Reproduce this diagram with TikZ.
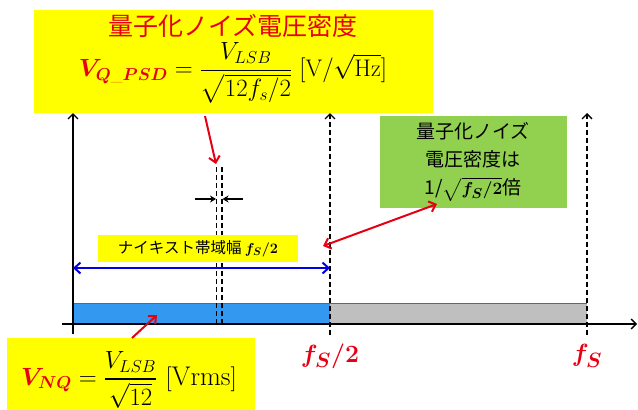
\documentclass[tikz,border=0pt]{standalone}
\usepackage{amsmath,amssymb}
\usepackage{bm}
\usepackage{fontspec}
\newfontfamily\jp{Noto Sans CJK JP}
\usetikzlibrary{arrows.meta}
\definecolor{ybox}{RGB}{255,255,0}
\definecolor{gbox}{RGB}{146,208,80}
\definecolor{bbar}{RGB}{51,153,240}
\definecolor{gbar}{RGB}{191,191,191}
\definecolor{rd}{RGB}{230,0,18}
\definecolor{bl}{RGB}{0,0,225}
\begin{document}
\begin{tikzpicture}[x=1pt,y=-1pt,
  boxnode/.style={inner sep=0pt, outer sep=0pt, anchor=north west, draw=none},
  axisline/.style={line width=1.6pt, -{Straight Barb[length=5pt,width=10pt,line width=1.4pt]}},
  dline/.style={line width=1.5pt, dash pattern=on 5pt off 3pt},
  darrow/.style={dline, -{Straight Barb[length=5pt,width=10pt,line width=1.3pt]}},
  redarr/.style={rd, line width=2pt, -{Straight Barb[length=6pt,width=11pt,line width=2pt]}},
  redboth/.style={rd, line width=2pt, {Straight Barb[length=6pt,width=11pt,line width=2pt]}-{Straight Barb[length=6pt,width=11pt,line width=2pt]}},
  bluearr/.style={bl, line width=2.2pt, {Straight Barb[length=6pt,width=11pt,line width=2pt]}-{Straight Barb[length=6pt,width=11pt,line width=2pt]}},
  smallarr/.style={line width=1.3pt, -{Stealth[length=6pt,width=7pt]}}
]
\useasboundingbox (0,0) rectangle (638,410);

% top yellow box
\node[boxnode, fill=ybox, minimum width=399pt, minimum height=103pt] (qbox) at (34,10) {};
\node[font=\jp\fontsize{25}{30}\selectfont, text=rd] (qtitle) at (233,26) {量子化ノイズ電圧密度};
\node[font=\fontsize{24}{28}\selectfont] (qpsd) at (233,73)
  {$\textcolor{rd}{\bm{V_{Q\_PSD}}} = \dfrac{V_{LSB}}{\sqrt{12f_s/2}}\ [\mathrm{V}/\sqrt{\mathrm{Hz}}]$};

% bars
\node[boxnode, fill=bbar, minimum width=257pt, minimum height=20pt] (bluebar) at (73,303) {};
\node[boxnode, fill=gbar, minimum width=257pt, minimum height=20pt] (graybar) at (330,303) {};
\draw[gray!80!black, line width=0.8pt] (bluebar.north west) -- (graybar.north east);

% axes
\coordinate (xa) at (62,324);
\coordinate (xb) at (637,324);
\coordinate (ya) at (73,334);
\coordinate (yb) at (73,113);
\draw[axisline] (xa) -- (xb);
\draw[axisline] (ya) -- (yb);

% dashed verticals
\coordinate (ha) at (330,335);
\coordinate (hb) at (330,113);
\coordinate (fa) at (587,335);
\coordinate (fb) at (587,113);
\draw[darrow] (ha) -- (hb);
\draw[darrow] (fa) -- (fb);

% double dashed line
\coordinate (d1a) at (216.5,324);
\coordinate (d1b) at (216.5,167);
\coordinate (d2a) at (222,324);
\coordinate (d2b) at (222,167);
\draw[dline] (d1a) -- (d1b);
\draw[dline] (d2a) -- (d2b);
\coordinate (sl) at (195,199);
\coordinate (slt) at (216,199);
\coordinate (sr) at (243,199);
\coordinate (srt) at (222.5,199);
\draw[smallarr] (sl) -- (slt);
\draw[smallarr] (sr) -- (srt);

% red arrow from top box
\coordinate (r1a) at (205,116);
\coordinate (r1b) at (216,164);
\draw[redarr] (r1a) -- (r1b);

% Nyquist label
\node[fill=ybox, minimum width=200pt, minimum height=27pt, inner sep=0pt,
  font=\jp\fontsize{15.5}{18}\selectfont] (nyq) at (198,248.5) {ナイキスト帯域幅 $\bm{f_S/2}$};

% blue arrow
\coordinate (ba) at (73,268);
\coordinate (bb) at (330,268);
\draw[bluearr] (ba) -- (bb);

% green box
\node[boxnode, fill=gbox, minimum width=187pt, minimum height=92pt] (gboxn) at (380,116) {};
\node[font=\jp\fontsize{19}{28}\selectfont, align=center] (gtext) at (473,162)
  {量子化ノイズ\\電圧密度は\\1/$\sqrt{\bm{f_S/2}}$倍};

% red double arrow
\coordinate (r2a) at (323,246);
\coordinate (r2b) at (437,204);
\draw[redboth] (r2a) -- (r2b);

% bottom yellow box
\node[boxnode, fill=ybox, minimum width=248pt, minimum height=75pt] (nqbox) at (7,338) {};
\node[font=\fontsize{27}{30}\selectfont] (vnq) at (129,380)
  {$\textcolor{rd}{\bm{V_{NQ}}} = \dfrac{V_{LSB}}{\sqrt{12}}\ [\mathrm{Vrms}]$};
\coordinate (r3a) at (132,338);
\coordinate (r3b) at (157,315);
\draw[redarr] (r3a) -- (r3b);

% frequency labels
\node[font=\fontsize{28}{32}\selectfont, text=rd] (lh) at (330,356) {$\bm{f_S/2}$};
\node[font=\fontsize{28}{32}\selectfont, text=rd] (lf) at (587,356) {$\bm{f_S}$};
\end{tikzpicture}
\end{document}
